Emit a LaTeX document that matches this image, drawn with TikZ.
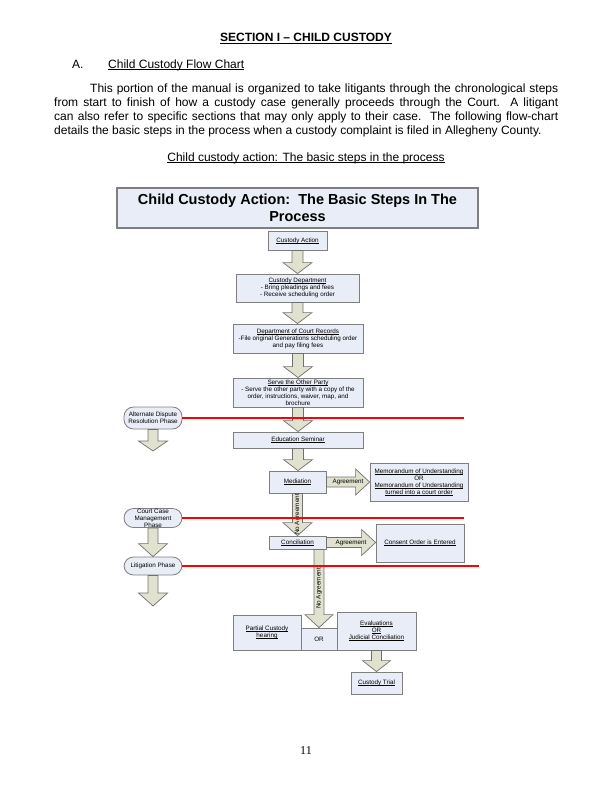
\documentclass[tikz,border=0pt]{standalone}
\usepackage{fontspec}
\setmainfont{Liberation Sans}
\newfontfamily\pagenumfont{Liberation Serif}
\usetikzlibrary{calc}

\definecolor{boxfill}{HTML}{E9EDF7}
\definecolor{boxline}{HTML}{7F7F7F}
\definecolor{arrowfill}{HTML}{E1E1CF}
\definecolor{arrowline}{HTML}{707070}
\definecolor{phasered}{HTML}{FF0000}

% underline at a fixed depth below the baseline
\newcommand{\undl}[1]{\mbox{\setbox0=\hbox{#1}\rlap{\rule[-0.16em]{\wd0}{0.07em}}\box0}}
% block arrow pointing down, from #1 to #2: shaft half, head half, head length
\newcommand{\blockdown}[5]{%
  \draw[blockarrow] let \p1=(#1), \p2=(#2) in
    (\x1-#3,\y1) -- (\x1-#3,\y2+#5) -- (\x1-#4,\y2+#5) -- (\x1,\y2)
    -- (\x1+#4,\y2+#5) -- (\x1+#3,\y2+#5) -- (\x1+#3,\y1) -- cycle;}
% block arrow pointing right
\newcommand{\blockright}[5]{%
  \draw[blockarrow] let \p1=(#1), \p2=(#2) in
    (\x1,\y1+#3) -- (\x2-#5,\y1+#3) -- (\x2-#5,\y1+#4) -- (\x2,\y1)
    -- (\x2-#5,\y1-#4) -- (\x2-#5,\y1-#3) -- (\x1,\y1-#3) -- cycle;}

\begin{document}
\begin{tikzpicture}[x=1pt,y=-1pt]
  \tikzset{stepbox/.style = {draw=boxline,fill=boxfill,line width=0.8pt,inner sep=0pt,
      align=center,font=\fontsize{6.3}{7}\selectfont}}
  \tikzset{titlebox/.style = {stepbox,line width=1.2pt,minimum width=361pt,minimum height=40pt,
      font=\bfseries\fontsize{14.5}{16.7}\selectfont}}
  \tikzset{phase/.style = {stepbox,rounded corners=9.5pt,minimum width=58pt}}
  \tikzset{blockarrow/.style = {draw=arrowline,fill=arrowfill,line width=0.7pt,line join=miter}}
  \tikzset{arrowtext/.style = {inner sep=0pt,font=\fontsize{6.3}{7}\selectfont}}
  \tikzset{phaseline/.style = {draw=phasered,line width=1.3pt}}
  \tikzset{pagetext/.style = {inner sep=0pt,font=\fontsize{12}{14}\selectfont}}
  \useasboundingbox (0,0) rectangle (612,792);

  % page text
  \node[pagetext,anchor=base,font=\bfseries\fontsize{12}{14}\selectfont] (section) at (306,42)
    {\undl{SECTION I -- CHILD CUSTODY}};
  \node[pagetext,anchor=base west] (sub) at (72,68) {A.};
  \node[pagetext,anchor=base west] (subtitle) at (108,68) {\undl{Child Custody Flow Chart}};
  \node[pagetext,anchor=north west,align=left] (intro) at (54,83.3)
    {\makebox[504pt][s]{\hspace*{36pt}This portion of the manual is organized to take litigants through the chronological steps}\\
     \makebox[504pt][s]{from start to finish of how a custody case generally proceeds through the Court.\ \ A litigant}\\
     \makebox[504pt][s]{can also refer to specific sections that may only apply to their case.\ \ The following flow-chart}\\
     details the basic steps in the process when a custody complaint is filed in Allegheny County.};
  \node[pagetext,anchor=base] (caption) at (306,161) {\undl{Child custody action: The basic steps in the process}};
  \node[pagetext,anchor=base,font=\pagenumfont\fontsize{12}{14}\selectfont] (pagenum) at (306,754) {11};

  % flow chart boxes
  \node[titlebox] (title) at (297.5,208) {Child Custody Action:\ \ The Basic Steps In The\\Process};
  \node[stepbox,minimum width=59pt,minimum height=19pt] (cact) at (297.5,240.5) {\undl{Custody Action}};
  \node[stepbox,minimum width=123pt,minimum height=28pt] (cdep) at (297.5,288)
    {\undl{Custody Department}\\- Bring pleadings and fees\\- Receive scheduling order};
  \node[stepbox,minimum width=130pt,minimum height=29pt] (dcr) at (298,338.5)
    {\undl{Department of Court Records}\\-File original Generations scheduling order\\and pay filing fees};
  \node[stepbox,minimum width=130pt,minimum height=29pt] (serve) at (298,392.5)
    {\undl{Serve the Other Party}\\- Serve the other party with a copy of the\\order, instructions, waiver, map, and\\brochure};
  \node[stepbox,minimum width=130pt,minimum height=16pt] (edu) at (298,440) {\undl{Education Seminar}};
  \node[stepbox,minimum width=57pt,minimum height=22pt] (med) at (297.5,482) {\undl{Mediation}};
  \node[stepbox,minimum width=98pt,minimum height=38pt] (memo) at (419,482)
    {\undl{Memorandum of Understanding}\\OR\\\undl{Memorandum of Understanding}\\\undl{turned into a court order}};
  \node[stepbox,minimum width=57pt,minimum height=13pt] (concil) at (297.5,542.5) {\undl{Conciliation}};
  \node[stepbox,minimum width=88pt,minimum height=38pt] (consent) at (420,543) {\undl{Consent Order is Entered}};
  \node[stepbox,minimum width=68pt,minimum height=35pt] (partial) at (267,632.5) {\undl{Partial Custody}\\\undl{hearing}};
  \node[stepbox,minimum width=36pt,minimum height=22pt] (orbox) at (319,639) {OR};
  \node[stepbox,minimum width=79pt,minimum height=38pt] (eval) at (376.5,631)
    {\undl{Evaluations}\\\undl{OR}\\\undl{Judicial Conciliation}};
  \node[stepbox,minimum width=51pt,minimum height=22pt] (trial) at (376.5,683) {\undl{Custody Trial}};

  % phases
  \node[phase,minimum height=22pt] (adr) at (153,418) {Alternate Dispute\\Resolution Phase};
  \node[phase,minimum height=19pt] (ccm) at (153,518) {Court Case\\Management\\Phase};
  \node[phase,minimum height=18pt] (lit) at (153,566) {Litigation Phase};
  \coordinate (adrtip) at (153,451);
  \coordinate (littip) at (153,606);
  \coordinate (adrend) at (464,418);
  \coordinate (ccmend) at (464,518);
  \coordinate (litend) at (479,566);

  % arrows
  \foreach \from/\to in {cact/cdep, cdep/dcr, dcr/serve, serve/edu, edu/med}
    \blockdown{\from.south}{\to.north}{5.5pt}{14.5pt}{11pt};
  \blockdown{med.south}{concil.north}{5pt}{14.5pt}{13pt}
  \blockdown{orbox.north |- concil.south}{orbox.north}{5pt}{14pt}{13pt}
  \blockdown{eval.south}{trial.north}{5pt}{14pt}{11pt}
  \blockright{med.east}{memo.west}{5pt}{13pt}{14pt}
  \blockright{concil.east}{consent.west}{5pt}{13pt}{14pt}
  \blockdown{adr.south}{adrtip}{5pt}{14.5pt}{10pt}
  \blockdown{ccm.south}{lit.north}{5pt}{14.5pt}{13pt}
  \blockdown{lit.south}{littip}{5pt}{14.5pt}{13pt}

  \node[arrowtext] at ($(med.east)!0.5!(memo.west)$) {Agreement};
  \node[arrowtext] at ($(concil.east)!0.5!(consent.west)$) {Agreement};
  \node[arrowtext,rotate=90] at ($(med.south)!0.5!(concil.north)$) {No Agreement};
  \node[arrowtext,rotate=90] at ($(orbox.north |- concil.south)!0.5!(orbox.north)$) {No Agreement};

  % phase lines
  \draw[phaseline] (adr.east) -- (adrend);
  \draw[phaseline] (ccm.east) -- (ccmend);
  \draw[phaseline] (lit.east) -- (litend);
\end{tikzpicture}
\end{document}
